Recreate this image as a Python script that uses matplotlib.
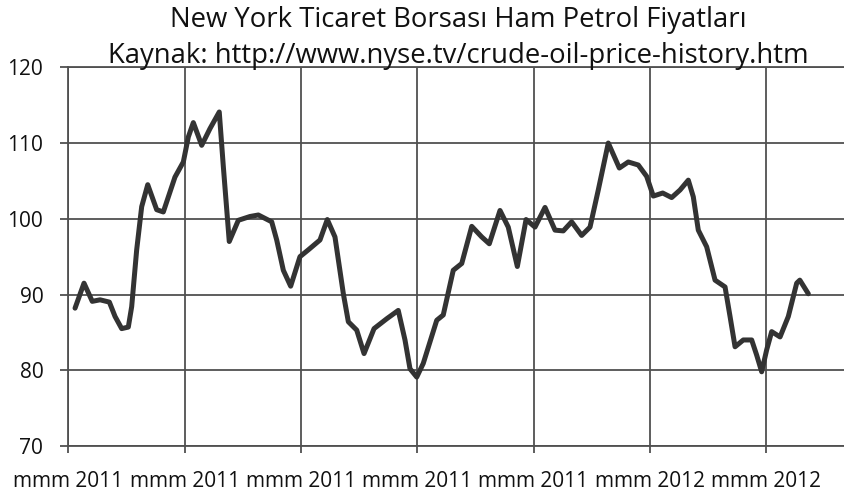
import matplotlib
matplotlib.use("Agg")
import matplotlib.pyplot as plt

# x in units of the major tick interval (tick i sits at x = i)
x_pos = [0.058, 0.135, 0.206, 0.273, 0.353, 0.402, 0.459, 0.516, 0.545, 0.588,
         0.631, 0.683, 0.760, 0.817, 0.917, 0.989, 1.032, 1.075, 1.147, 1.218,
         1.298, 1.333, 1.384, 1.462, 1.562, 1.634, 1.749, 1.792, 1.849, 1.912,
         1.992, 2.064, 2.164, 2.227, 2.293, 2.365, 2.408, 2.480, 2.543, 2.629,
         2.738, 2.837, 2.895, 2.938, 2.996, 3.052, 3.168, 3.224, 3.310, 3.383,
         3.469, 3.555, 3.620, 3.712, 3.783, 3.861, 3.936, 4.013, 4.099, 4.185,
         4.256, 4.328, 4.414, 4.486, 4.557, 4.643, 4.738, 4.815, 4.901, 4.973,
         5.030, 5.111, 5.188, 5.260, 5.331, 5.374, 5.417, 5.489, 5.561, 5.647,
         5.690, 5.733, 5.804, 5.876, 5.919, 5.962, 6.005, 6.048, 6.120, 6.191,
         6.263, 6.290, 6.363]
price = [88.2, 91.5, 89.1, 89.3, 89.0, 87.1, 85.5, 85.7, 88.4, 95.9,
         101.6, 104.5, 101.2, 100.9, 105.5, 107.5, 110.8, 112.7, 109.7, 111.9,
         114.1, 106.9, 97.0, 99.8, 100.3, 100.5, 99.6, 97.2, 93.2, 91.1,
         95.0, 95.9, 97.2, 99.9, 97.6, 90.1, 86.4, 85.3, 82.2, 85.5,
         86.8, 87.9, 84.0, 80.2, 79.1, 80.9, 86.6, 87.3, 93.2, 94.1,
         99.0, 97.6, 96.7, 101.1, 98.9, 93.7, 99.9, 98.9, 101.5, 98.5,
         98.4, 99.6, 97.8, 98.9, 103.8, 110.0, 106.7, 107.5, 107.1, 105.6,
         103.0, 103.4, 102.8, 103.8, 105.1, 102.9, 98.5, 96.3, 91.9, 91.0,
         87.1, 83.1, 84.0, 84.0, 82.0, 79.8, 82.7, 85.1, 84.4, 87.1,
         91.5, 91.9, 90.1]

x_ticks = [0, 1, 2, 3, 4, 5, 6]
x_labels = ["mmm 2011", "mmm 2011", "mmm 2011", "mmm 2011", "mmm 2011",
            "mmm 2012", "mmm 2012"]
y_ticks = [70, 80, 90, 100, 110, 120]

title1 = "New York Ticaret Borsası Ham Petrol Fiyatları"
title2 = "Kaynak: http://www.nyse.tv/crude-oil-price-history.htm"

plt.rcParams['font.family'] = ['Open Sans', 'DejaVu Sans']

W, H = 845, 498
fig = plt.figure(figsize=(W / 100, H / 100), dpi=100)
ax = fig.add_axes([68.3 / W, 1 - 446 / H, 1 - 68.3 / W, (446 - 67.3) / H])

grid_c = "#505050"
ax.plot(x_pos, price, color="#333333", lw=3.6, solid_joinstyle="round",
        solid_capstyle="round", zorder=3)

ax.set_xlim(0, (W - 68.3) / 116.3)
ax.set_ylim(70, 120)
ax.set_xticks(x_ticks)
ax.set_xticklabels(x_labels)
ax.set_yticks(y_ticks)
ax.grid(True, color=grid_c, lw=1.3)
for s in ["left", "bottom", "top"]:
    ax.spines[s].set_color(grid_c)
    ax.spines[s].set_linewidth(1.3)
ax.spines["right"].set_visible(False)
ax.tick_params(axis="y", direction="out", length=6, width=1.3, color=grid_c,
               pad=12, labelsize=15, labelcolor="#111111")
ax.tick_params(axis="x", direction="out", length=5, width=1.3, color=grid_c,
               pad=13, labelsize=15, labelcolor="#111111")

fig.text(458 / W, 1 - 27 / H, title1, ha="center", va="baseline",
         fontsize=19.8, color="#111111")
fig.text(458 / W, 1 - 63 / H, title2, ha="center", va="baseline",
         fontsize=19.8, color="#111111")

fig.savefig("out.png", dpi=100)
